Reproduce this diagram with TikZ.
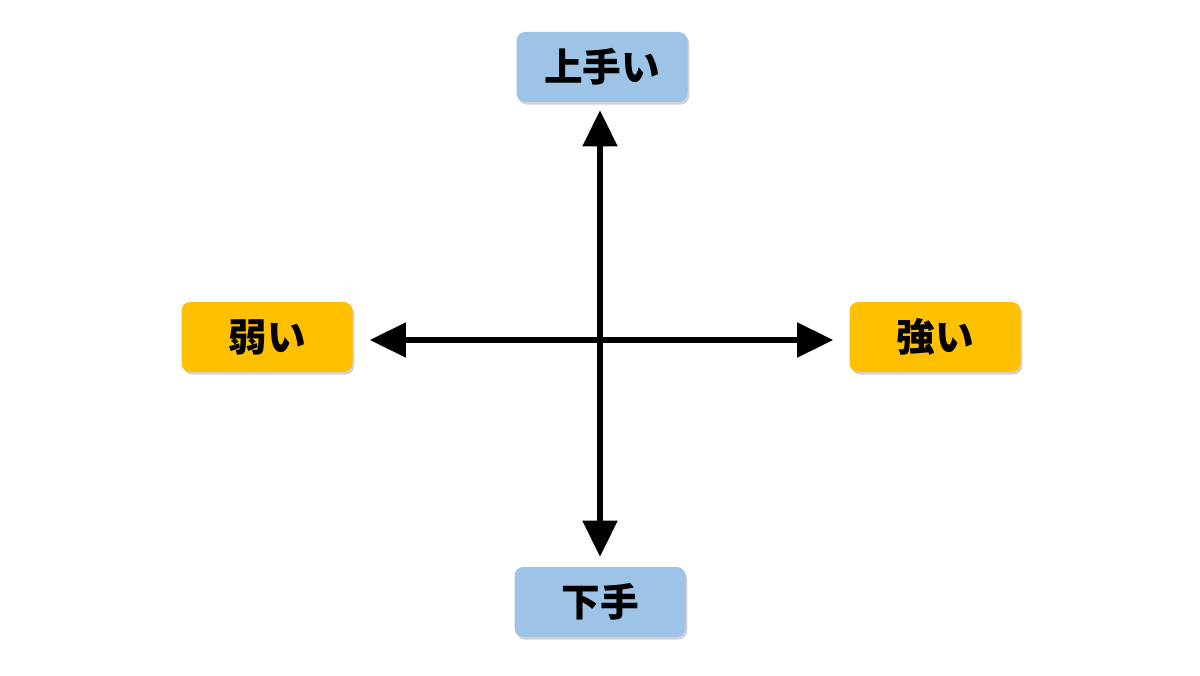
\documentclass[tikz,border=0pt]{standalone}
\usepackage{fontspec}
\newfontfamily\cjk{Noto Sans CJK JP}[BoldFont={* Black}]
\usetikzlibrary{arrows.meta,shadows}
\definecolor{boxblue}{RGB}{157,195,230}
\definecolor{boxorange}{RGB}{255,192,0}
\tikzset{
  label box/.style={rounded corners=5pt, minimum width=3.42cm, minimum height=1.4cm,
    font=\cjk\bfseries\fontsize{22}{22}\selectfont, text=black,
    drop shadow={shadow xshift=1pt, shadow yshift=-1.5pt, opacity=.35}},
  axis/.style={line width=3pt, -{Triangle[width=0.68cm,length=0.72cm]}}
}
\begin{document}
\begin{tikzpicture}
\useasboundingbox (0,0) rectangle (24,13.5);
\node[label box, fill=boxblue] (up) at (12.04,12.16) {上手い};
\node[label box, fill=boxblue] (down) at (12.0,1.46) {下手};
\node[label box, fill=boxorange] (weak) at (5.34,6.76) {弱い};
\node[label box, fill=boxorange] (strong) at (18.7,6.76) {強い};
\coordinate (c) at (12,6.7);
\draw[axis] (c) -- (up.south -| c) [shorten >=0.16cm];
\draw[axis] (c) -- (down.north -| c) [shorten >=0.2cm];
\draw[axis] (c) -- (weak.east |- c) [shorten >=0.34cm];
\draw[axis] (c) -- (strong.west |- c) [shorten >=0.32cm];
\end{tikzpicture}
\end{document}
